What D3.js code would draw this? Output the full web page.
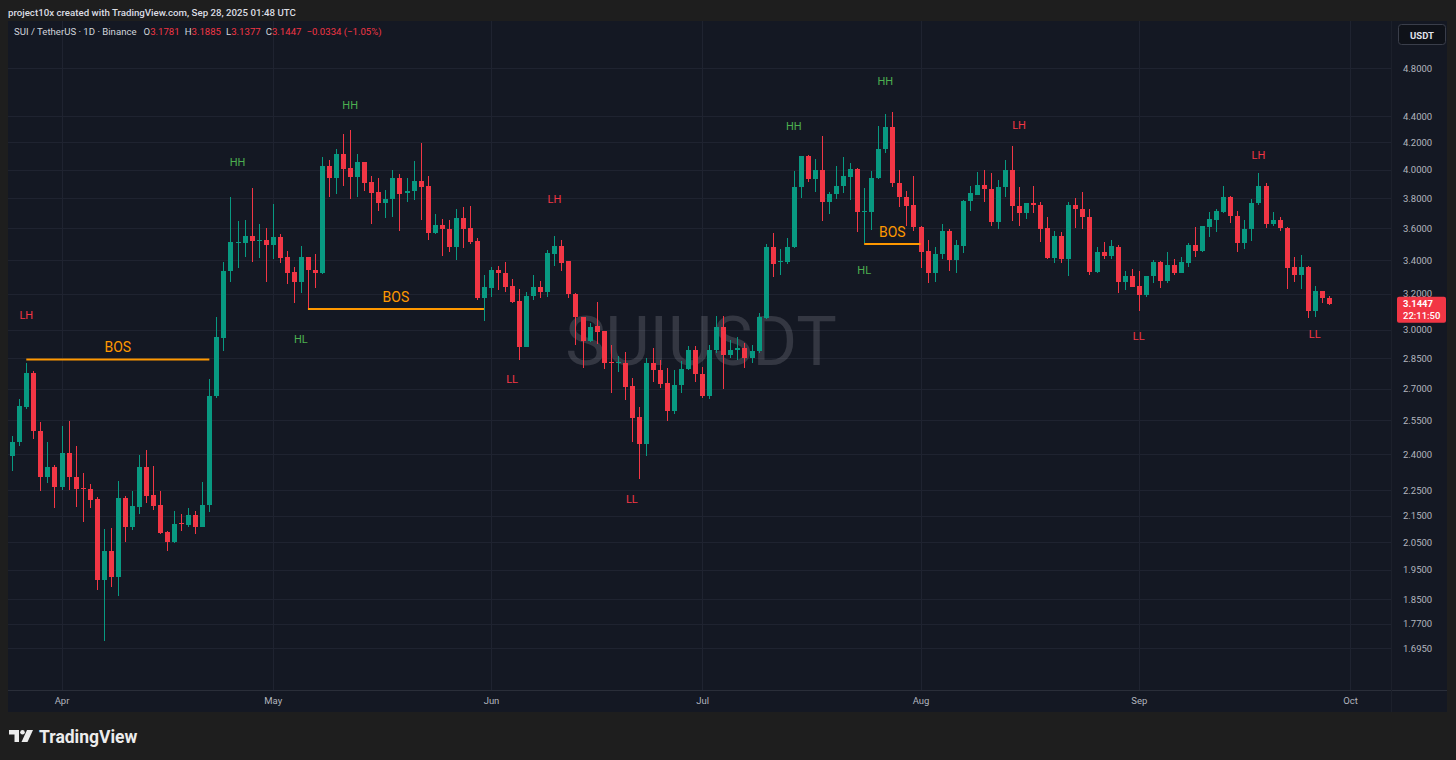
<!DOCTYPE html>
<html><head><meta charset="utf-8">
<script src="https://cdn.jsdelivr.net/npm/d3@7"></script>
<style>body{margin:0;background:#1e1e1e;overflow:hidden}svg{display:block}</style>
</head><body><svg id="c" width="1456" height="760"></svg>
<script>
// ---------------- DATA ----------------
const firstDay = "2025-03-25";
const opens = [
2.393,2.452,2.612,2.779,2.504,2.305,2.347,2.264,2.404,2.305,
2.260,2.255,2.215,1.916,2.016,1.925,2.219,2.108,2.184,2.346,
2.231,2.191,2.087,2.052,2.121,2.114,2.152,2.108,2.191,2.664,
2.958,3.334,3.508,3.508,3.552,3.522,3.528,3.494,3.544,3.419,
3.328,3.269,3.419,3.340,3.324,4.026,3.938,4.113,4.009,3.947,
4.054,3.910,3.842,3.770,3.792,3.938,3.834,3.851,3.919,3.884,
3.572,3.619,3.593,3.479,3.667,3.600,3.518,3.178,3.237,3.338,
3.324,3.246,3.160,2.911,3.186,3.240,3.213,3.439,3.487,3.393,
3.202,3.072,2.941,3.021,2.993,2.833,2.827,2.827,2.712,2.566,
2.446,2.825,2.792,2.727,2.595,2.717,2.797,2.894,2.772,2.666,
2.894,3.018,2.868,2.894,2.903,2.851,2.890,3.065,3.483,3.388,
3.389,3.479,3.879,4.099,3.931,3.997,3.776,3.826,3.884,3.950,
4.005,3.709,3.709,3.942,4.148,4.315,3.907,3.806,3.754,3.611,
3.456,3.324,3.437,3.584,3.401,3.490,3.779,3.825,3.889,3.863,
3.643,3.875,3.997,3.747,3.700,3.770,3.756,3.600,3.411,3.550,
3.405,3.756,3.727,3.676,3.330,3.448,3.427,3.483,3.271,3.302,
3.246,3.194,3.303,3.388,3.277,3.370,3.324,3.385,3.494,3.458,
3.611,3.651,3.709,3.810,3.680,3.509,3.594,3.770,3.882,3.627,
3.652,3.604,3.356,3.310,3.356,3.105,3.217,3.1781];
const highs = [
2.481,2.648,2.825,2.785,2.544,2.455,2.354,2.525,2.548,2.436,
2.319,2.275,2.222,2.099,2.101,2.286,2.228,2.247,2.395,2.417,
2.349,2.247,2.091,2.167,2.155,2.178,2.167,2.282,2.747,3.072,
3.390,3.806,3.648,3.652,3.867,3.628,3.600,3.761,3.563,3.456,
3.357,3.487,3.421,3.437,4.093,4.069,4.150,4.264,4.293,4.111,
4.058,3.956,3.942,3.856,3.997,3.966,3.938,4.062,4.195,3.954,
3.691,3.658,3.654,3.729,3.743,3.747,3.540,3.309,3.361,3.367,
3.387,3.285,3.227,3.212,3.309,3.277,3.462,3.552,3.525,3.395,
3.203,3.072,3.036,3.154,2.995,2.919,2.863,2.882,2.750,2.612,
2.851,2.904,2.842,2.800,2.792,2.839,2.915,2.915,2.809,2.920,
3.077,3.076,2.946,2.963,2.929,2.920,3.095,3.500,3.568,3.466,
3.536,3.990,4.100,4.105,4.074,4.247,3.845,4.027,4.088,4.051,
4.014,3.867,3.992,4.327,4.418,4.435,3.997,3.851,3.954,3.615,
3.525,3.483,3.628,3.594,3.525,3.788,3.882,3.983,3.997,3.978,
3.926,4.069,4.173,3.875,3.770,3.886,3.772,3.671,3.583,3.579,
3.772,3.799,3.842,3.729,3.479,3.511,3.523,3.494,3.336,3.346,
3.334,3.303,3.401,3.394,3.448,3.407,3.417,3.508,3.607,3.615,
3.709,3.727,3.882,3.812,3.716,3.651,3.793,3.978,3.908,3.709,
3.676,3.606,3.417,3.431,3.364,3.248,3.219,3.1885];
const lows = [
2.330,2.435,2.603,2.468,2.247,2.278,2.178,2.251,2.251,2.182,
2.127,2.178,1.881,1.717,1.892,1.862,2.050,2.095,2.157,2.199,
2.171,2.081,2.018,2.045,2.091,2.108,2.080,2.106,2.165,2.655,
2.890,3.268,3.354,3.421,3.387,3.415,3.268,3.405,3.384,3.259,
3.150,3.208,3.114,3.234,3.318,3.810,3.829,3.882,3.797,3.810,
3.851,3.630,3.715,3.669,3.676,3.581,3.774,3.790,3.652,3.525,
3.566,3.427,3.449,3.401,3.476,3.498,3.167,3.048,3.180,3.223,
3.213,3.150,2.842,2.909,3.167,3.175,3.180,3.362,3.334,3.178,
2.918,2.803,2.935,2.925,2.797,2.677,2.784,2.645,2.455,2.294,
2.392,2.731,2.701,2.548,2.578,2.677,2.790,2.734,2.657,2.648,
2.877,2.696,2.851,2.842,2.800,2.825,2.877,3.060,3.297,3.309,
3.376,3.478,3.799,3.914,3.842,3.650,3.696,3.797,3.836,3.785,
3.578,3.508,3.589,3.933,4.123,3.880,3.743,3.615,3.584,3.352,
3.265,3.271,3.405,3.336,3.324,3.441,3.713,3.819,3.776,3.617,
3.595,3.810,3.649,3.617,3.661,3.702,3.515,3.407,3.381,3.384,
3.302,3.600,3.595,3.310,3.320,3.407,3.407,3.208,3.223,3.242,
3.103,3.184,3.265,3.232,3.265,3.310,3.320,3.361,3.421,3.452,
3.546,3.578,3.702,3.636,3.451,3.466,3.519,3.754,3.604,3.617,
3.584,3.229,3.271,3.229,3.063,3.072,3.146,3.1377];
const closes = [
2.455,2.617,2.779,2.501,2.305,2.347,2.264,2.404,2.302,2.256,
2.255,2.212,1.916,2.016,1.925,2.219,2.108,2.187,2.346,2.228,
2.187,2.084,2.052,2.119,2.116,2.152,2.108,2.192,2.664,2.960,
3.336,3.512,3.514,3.552,3.520,3.527,3.494,3.544,3.413,3.322,
3.269,3.419,3.338,3.324,4.026,3.938,4.113,4.004,3.947,4.054,
3.907,3.837,3.770,3.792,3.938,3.829,3.849,3.919,3.877,3.572,
3.619,3.593,3.479,3.667,3.594,3.512,3.178,3.240,3.338,3.320,
3.240,3.154,2.911,3.188,3.240,3.213,3.445,3.487,3.385,3.200,
3.070,2.941,3.018,2.987,2.827,2.827,2.830,2.709,2.562,2.446,
2.825,2.790,2.724,2.595,2.717,2.797,2.894,2.772,2.666,2.894,
3.018,2.868,2.894,2.903,2.851,2.890,3.069,3.483,3.377,3.395,
3.483,3.879,4.099,3.931,3.997,3.776,3.826,3.884,3.954,4.005,
3.709,3.715,3.942,4.150,4.315,3.903,3.806,3.747,3.610,3.452,
3.324,3.437,3.584,3.401,3.494,3.783,3.832,3.889,3.860,3.643,
3.875,3.997,3.747,3.698,3.770,3.754,3.596,3.411,3.550,3.405,
3.756,3.725,3.676,3.330,3.448,3.427,3.487,3.271,3.302,3.242,
3.194,3.303,3.388,3.277,3.370,3.324,3.391,3.494,3.458,3.613,
3.661,3.715,3.810,3.680,3.509,3.594,3.770,3.882,3.626,3.652,
3.600,3.354,3.310,3.356,3.105,3.217,3.1781,3.1447];

const priceTicks = [4.8,4.4,4.2,4.0,3.8,3.6,3.4,3.2,3.0,2.85,2.7,2.55,2.4,2.25,2.15,2.05,1.95,1.85,1.77,1.695];
const monthTicks = ["2025-04-01","2025-05-01","2025-06-01","2025-07-01","2025-08-01","2025-09-01","2025-10-01"];

const swingText  = ["LH","HH","HH","HL","LH","LL","LL","HH","HH","HL","LH","LL","LH","LL"];
const swingIndex = [2,32,48,41,77,71,88,111,124,121,143,160,177,185];
const swingPrice = [3.081,4.054,4.491,2.951,3.788,2.742,2.211,4.318,4.689,3.340,4.326,2.967,4.106,2.973];

const bosStart = [2,42,121];
const bosEnd   = [28,67,129];
const bosPrice = [2.845,3.114,3.500];

const headerText = "project10x created with TradingView.com, Sep 28, 2025 01:48 UTC";
const symbolText = "SUI / TetherUS · 1D · Binance";
const watermark = "SUIUSDT";
const countdown = "22:11:50";

// ---------------- DRAW ----------------
const W = 1456, H = 760;
const FONT = "Roboto, 'Liberation Sans', sans-serif";
const UP = "#089981", DOWN = "#f23645";
const svg = d3.select("#c");

const day0 = new Date(firstDay + "T00:00:00Z");
const candles = opens.map((o, i) => ({
  date: d3.utcDay.offset(day0, i), o, h: highs[i], l: lows[i], c: closes[i]
}));

const x = d3.scaleUtc()
  .domain([new Date("2025-04-01T00:00:00Z"), new Date("2025-10-01T00:00:00Z")])
  .range([61.5, 1350]);
const y = d3.scaleLog().domain([1.695, 4.8]).range([648, 68]);
const xi = i => x(d3.utcDay.offset(day0, i));

const pane = {l: 8, t: 22, r: 1391, b: 690};

// background
svg.append("rect").attr("width", W).attr("height", H).attr("fill", "#1e1e1e");
svg.append("rect").attr("x", 8).attr("y", 21).attr("width", 1439).attr("height", 691).attr("fill", "#141823");

// header
svg.append("text").attr("x", 8).attr("y", 16).attr("fill", "#dbdde3")
  .attr("font-family", FONT).attr("font-size", 9.7).attr("font-weight", 500).text(headerText);

const clip = svg.append("defs").append("clipPath").attr("id", "pc");
clip.append("rect").attr("x", pane.l).attr("y", pane.t).attr("width", pane.r - pane.l).attr("height", pane.b - pane.t);

// grid
const grid = svg.append("g").attr("shape-rendering", "crispEdges").attr("stroke", "#1f2330");
grid.selectAll("line.h").data(priceTicks).join("line")
  .attr("x1", pane.l).attr("x2", pane.r)
  .attr("y1", d => Math.round(y(d)) + 0.5).attr("y2", d => Math.round(y(d)) + 0.5);
grid.selectAll("line.v").data(monthTicks).join("line")
  .attr("y1", 21).attr("y2", pane.b)
  .attr("x1", d => Math.round(x(new Date(d + "T00:00:00Z"))) + 0.5)
  .attr("x2", d => Math.round(x(new Date(d + "T00:00:00Z"))) + 0.5);

// separators
svg.append("line").attr("x1", pane.l).attr("x2", 1447).attr("y1", pane.b + 0.5).attr("y2", pane.b + 0.5)
  .attr("stroke", "#2a2e39").attr("shape-rendering", "crispEdges");
svg.append("line").attr("x1", pane.r + 0.5).attr("x2", pane.r + 0.5).attr("y1", 21).attr("y2", 712)
  .attr("stroke", "#1c202b").attr("shape-rendering", "crispEdges");

// watermark
svg.append("text").attr("x", 701).attr("y", 342).attr("text-anchor", "middle")
  .attr("dominant-baseline", "central").attr("font-family", FONT).attr("font-size", 68)
  .attr("fill", "rgba(178,181,190,0.2)").text(watermark);

// candles
const cg = svg.append("g").attr("clip-path", "url(#pc)").attr("shape-rendering", "crispEdges");
const cand = cg.selectAll("g").data(candles).join("g")
  .attr("fill", d => d.c >= d.o ? UP : DOWN)
  .attr("stroke", d => d.c >= d.o ? UP : DOWN);
cand.append("line")
  .attr("x1", d => Math.round(x(d.date)) + 0.5).attr("x2", d => Math.round(x(d.date)) + 0.5)
  .attr("y1", d => y(d.h)).attr("y2", d => y(d.l));
cand.append("rect").attr("stroke", "none")
  .attr("x", d => Math.round(x(d.date)) - 2).attr("width", 5)
  .attr("y", d => y(Math.max(d.o, d.c)))
  .attr("height", d => Math.max(1, y(Math.min(d.o, d.c)) - y(Math.max(d.o, d.c))));

// BOS lines
const bos = svg.append("g");
bosPrice.forEach((p, k) => {
  const x1 = xi(bosStart[k]), x2 = xi(bosEnd[k]);
  bos.append("line").attr("x1", x1).attr("x2", x2).attr("y1", y(p)).attr("y2", y(p))
    .attr("stroke", "#ff9800").attr("stroke-width", 2);
  bos.append("text").attr("x", (x1 + x2) / 2).attr("y", y(p) - 12)
    .attr("text-anchor", "middle").attr("dominant-baseline", "central")
    .attr("font-family", FONT).attr("font-size", 14).attr("fill", "#ff9800").text("BOS");
});

// swing labels
svg.append("g").selectAll("text").data(swingText).join("text")
  .attr("x", (d, i) => xi(swingIndex[i])).attr("y", (d, i) => y(swingPrice[i]))
  .attr("text-anchor", "middle").attr("dominant-baseline", "central")
  .attr("font-family", FONT).attr("font-size", 11)
  .attr("fill", d => d[0] === "H" ? "#4caf50" : "#f23645").text(d => d);

// legend
const last = candles[candles.length - 1], prev = candles[candles.length - 2];
const chg = last.c - prev.c, pct = chg / prev.c * 100;
const f4 = d3.format(".4f");
const lg = svg.append("text").attr("x", 14).attr("y", 35).attr("font-family", FONT)
  .attr("font-size", 9.6).attr("fill", "#d1d4dc");
lg.append("tspan").text(symbolText);
[["O", last.o], ["H", last.h], ["L", last.l], ["C", last.c]].forEach(([k, v], j) => {
  lg.append("tspan").attr("dx", j === 0 ? 7 : 5).attr("fill", "#d1d4dc").text(k);
  lg.append("tspan").attr("fill", DOWN).text(f4(v));
});
lg.append("tspan").attr("dx", 5).attr("fill", DOWN)
  .text((chg < 0 ? "\u2212" : "+") + f4(Math.abs(chg)) + " (" + (chg < 0 ? "\u2212" : "+") + d3.format(".2f")(Math.abs(pct)) + "%)");

// price axis
const ya = d3.axisRight(y).tickValues(priceTicks).tickFormat(f4).tickSize(0).tickPadding(12);
const yg = svg.append("g").attr("transform", "translate(1391,0)").call(ya);
yg.select(".domain").remove();
yg.selectAll("text").attr("fill", "#b2b5be").attr("font-family", FONT).attr("font-size", 9.5);

// time axis
const xa = d3.axisBottom(x).tickValues(monthTicks.map(d => new Date(d + "T00:00:00Z")))
  .tickFormat(d3.utcFormat("%b")).tickSize(0).tickPadding(7);
const xg = svg.append("g").attr("transform", "translate(0," + pane.b + ")").call(xa);
xg.select(".domain").remove();
xg.selectAll("text").attr("fill", "#b2b5be").attr("font-family", FONT).attr("font-size", 9.5);

// USDT button
svg.append("rect").attr("x", 1398.5).attr("y", 24.5).attr("width", 47).attr("height", 20).attr("rx", 3)
  .attr("fill", "#0f1219").attr("stroke", "#3a3e4a");
svg.append("text").attr("x", 1422).attr("y", 35).attr("text-anchor", "middle").attr("dominant-baseline", "central")
  .attr("font-family", FONT).attr("font-size", 9.5).attr("font-weight", 700).attr("fill", "#e0e3eb").text("USDT");

// last price label
const ly = y(last.c);
svg.append("rect").attr("x", 1397).attr("y", ly - 7).attr("width", 49).attr("height", 26).attr("rx", 2).attr("fill", DOWN);
svg.append("text").attr("x", 1403).attr("y", ly).attr("dominant-baseline", "central")
  .attr("font-family", FONT).attr("font-size", 9.5).attr("font-weight", 700).attr("fill", "#fff").text(f4(last.c));
svg.append("text").attr("x", 1403).attr("y", ly + 12).attr("dominant-baseline", "central")
  .attr("font-family", FONT).attr("font-size", 9.5).attr("font-weight", 500).attr("fill", "#fff").text(countdown);

// footer logo
const logo = svg.append("g").attr("fill", "#ececec");
logo.append("path").attr("d", "M9 730h10v12h-4.5v-7.5H9z");
logo.append("circle").attr("cx", 22.5).attr("cy", 732.3).attr("r", 2.3);
logo.append("path").attr("d", "M27 730h6l-5.5 12h-6z");
svg.append("text").attr("x", 39).attr("y", 737).attr("dominant-baseline", "central")
  .attr("font-family", FONT).attr("font-size", 17.5).attr("font-weight", 700).attr("fill", "#ececec")
  .text("TradingView");
</script></body></html>
